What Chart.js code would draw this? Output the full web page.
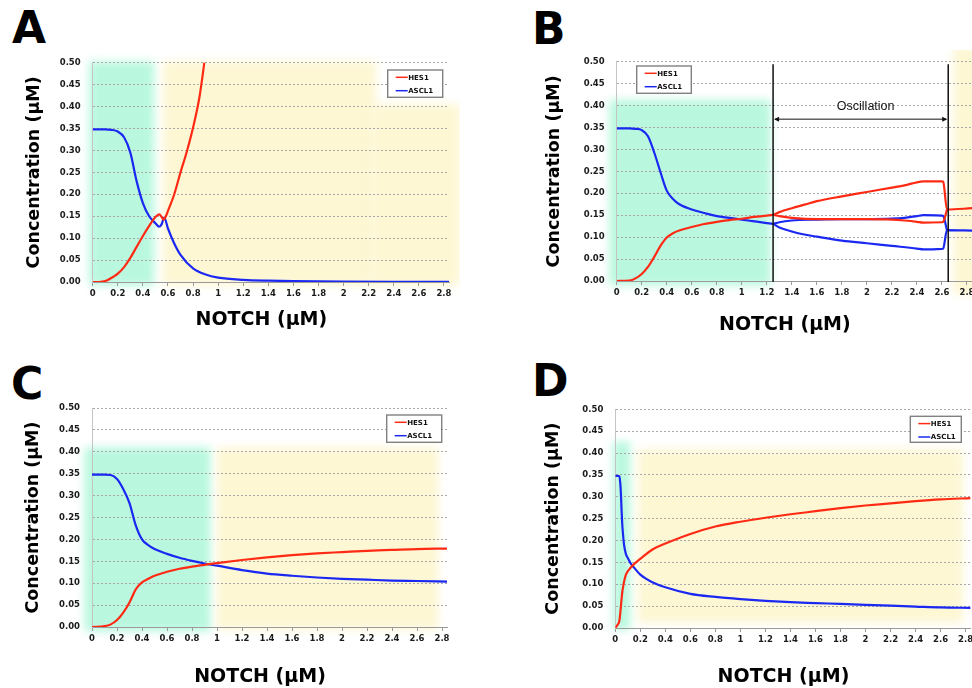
<!DOCTYPE html>
<html>
<head>
<meta charset="utf-8">
<script src="https://cdn.jsdelivr.net/npm/chart.js@4.4.0/dist/chart.umd.min.js"></script>
<style>
body{margin:0;background:#fff;width:972px;height:688px;overflow:hidden;position:relative}
.pane{position:absolute}
.tag{position:absolute;font:bold 44px/44px "DejaVu Sans";color:#000}
</style>
</head>
<body>
<div class="tag" style="left:12px;top:6px">A</div>
<div class="tag" style="left:532px;top:7px">B</div>
<div class="tag" style="left:11px;top:362px">C</div>
<div class="tag" style="left:532px;top:359px">D</div>
<canvas id="cA" class="pane" width="460" height="290" style="left:0;top:50px"></canvas>
<canvas id="cB" class="pane" width="486" height="290" style="left:486px;top:50px"></canvas>
<canvas id="cC" class="pane" width="460" height="298" style="left:0;top:390px"></canvas>
<canvas id="cD" class="pane" width="486" height="298" style="left:486px;top:390px"></canvas>
<script>
// axes
var notchTicks = [0, 0.2, 0.4, 0.6, 0.8, 1, 1.2, 1.4, 1.6, 1.8, 2, 2.2, 2.4, 2.6, 2.8];
var notchLabels = ['0', '0.2', '0.4', '0.6', '0.8', '1', '1.2', '1.4', '1.6', '1.8', '2', '2.2', '2.4', '2.6', '2.8'];
var concTicks = [0, 0.05, 0.1, 0.15, 0.2, 0.25, 0.3, 0.35, 0.4, 0.45, 0.5];
var concLabels = ['0.00', '0.05', '0.10', '0.15', '0.20', '0.25', '0.30', '0.35', '0.40', '0.45', '0.50'];

// A
var hesAx = [0, 0.05, 0.1, 0.165, 0.2, 0.25, 0.3, 0.35, 0.4, 0.45, 0.5, 0.53, 0.55, 0.565, 0.58, 0.6, 0.65, 0.7, 0.75, 0.8, 0.85, 0.89, 0.95];
var hesA = [0, 0, 0.002, 0.012, 0.019, 0.034, 0.055, 0.08, 0.105, 0.128, 0.148, 0.154, 0.148, 0.142, 0.148, 0.162, 0.2, 0.25, 0.297, 0.352, 0.42, 0.5, 0.62];
var asclAx = [0, 0.1, 0.15, 0.2, 0.25, 0.3, 0.35, 0.4, 0.45, 0.5, 0.53, 0.55, 0.57, 0.6, 0.65, 0.7, 0.8, 0.9, 1, 1.2, 1.4, 1.6, 2, 2.4, 2.84];
var asclA = [0.348, 0.348, 0.347, 0.343, 0.33, 0.295, 0.23, 0.18, 0.15, 0.134, 0.126, 0.132, 0.147, 0.122, 0.088, 0.062, 0.031, 0.017, 0.01, 0.005, 0.003, 0.002, 0.001, 0.0005, 0.0003];

// B: steady state, then the two oscillation envelopes, then steady again
var hesBx = [0, 0.1, 0.15, 0.2, 0.25, 0.3, 0.35, 0.4, 0.45, 0.5, 0.6, 0.7, 0.8, 0.9, 1, 1.1, 1.2, 1.25, 1.3, 1.4, 1.5, 1.6, 1.8, 2, 2.2, 2.3, 2.4, 2.45, 2.6, 2.61, 2.64, 2.84];
var hesB = [0, 0.001, 0.006, 0.016, 0.032, 0.055, 0.08, 0.099, 0.109, 0.115, 0.123, 0.13, 0.135, 0.139, 0.142, 0.146, 0.149, 0.151, 0.157, 0.166, 0.174, 0.182, 0.193, 0.203, 0.213, 0.218, 0.225, 0.227, 0.227, 0.226, 0.163, 0.166];
var hesLowBx = [1.25, 1.3, 1.4, 1.6, 1.8, 2, 2.2, 2.3, 2.4, 2.45, 2.6, 2.61, 2.64];
var hesLowB = [0.151, 0.148, 0.144, 0.141, 0.141, 0.141, 0.14, 0.138, 0.135, 0.133, 0.134, 0.135, 0.163];
var asclBx = [0, 0.1, 0.15, 0.2, 0.25, 0.3, 0.35, 0.4, 0.45, 0.5, 0.6, 0.7, 0.8, 0.9, 1, 1.1, 1.2, 1.25, 1.3, 1.4, 1.5, 1.6, 1.8, 2, 2.2, 2.4, 2.45, 2.6, 2.61, 2.64, 2.84];
var asclB = [0.348, 0.348, 0.347, 0.344, 0.33, 0.293, 0.248, 0.206, 0.187, 0.175, 0.163, 0.155, 0.148, 0.144, 0.14, 0.136, 0.132, 0.13, 0.122, 0.113, 0.106, 0.101, 0.092, 0.086, 0.08, 0.074, 0.072, 0.073, 0.074, 0.116, 0.115];
var asclHighBx = [1.25, 1.3, 1.4, 1.6, 1.8, 2, 2.2, 2.3, 2.4, 2.45, 2.6, 2.61, 2.64];
var asclHighB = [0.13, 0.134, 0.138, 0.14, 0.141, 0.141, 0.142, 0.144, 0.148, 0.15, 0.149, 0.148, 0.116];
var oscStart = 1.25, oscEnd = 2.65, oscTop = 0.494, oscArrow = 0.369, oscTextAt = [1.99, 0.397];

// C
var notchC = [0, 0.1, 0.15, 0.2, 0.25, 0.3, 0.35, 0.4, 0.45, 0.5, 0.6, 0.7, 0.8, 0.9, 1, 1.2, 1.4, 1.6, 1.8, 2, 2.2, 2.4, 2.6, 2.84];
var hesC = [0, 0.002, 0.006, 0.016, 0.033, 0.056, 0.086, 0.102, 0.11, 0.117, 0.126, 0.133, 0.138, 0.142, 0.146, 0.153, 0.159, 0.164, 0.168, 0.171, 0.174, 0.176, 0.178, 0.179];
var asclC = [0.348, 0.348, 0.347, 0.338, 0.315, 0.283, 0.232, 0.2, 0.187, 0.178, 0.167, 0.158, 0.151, 0.145, 0.14, 0.13, 0.122, 0.117, 0.113, 0.11, 0.108, 0.106, 0.105, 0.1035];

// D
var notchD = [0, 0.02, 0.032, 0.04, 0.045, 0.05, 0.055, 0.06, 0.07, 0.085, 0.1, 0.12, 0.15, 0.2, 0.3, 0.4, 0.6, 0.8, 1, 1.2, 1.4, 1.6, 1.8, 2, 2.2, 2.4, 2.6, 2.84];
var hesD = [0, 0.008, 0.016, 0.035, 0.05, 0.066, 0.08, 0.09, 0.106, 0.122, 0.13, 0.137, 0.146, 0.158, 0.18, 0.193, 0.215, 0.232, 0.243, 0.252, 0.26, 0.267, 0.274, 0.28, 0.285, 0.29, 0.294, 0.297];
var asclD = [0.348, 0.348, 0.347, 0.33, 0.306, 0.27, 0.24, 0.22, 0.19, 0.169, 0.16, 0.149, 0.138, 0.122, 0.104, 0.093, 0.078, 0.071, 0.066, 0.062, 0.059, 0.057, 0.055, 0.053, 0.051, 0.049, 0.047, 0.046];

// shaded zones [notch from, notch to, conc from, conc to]
var greenA = [-0.03, 0.49, -0.008, 0.503];
var yellowA = [[0.56, 2.26, -0.008, 0.503], [2.22, 2.93, -0.008, 0.405]];
var greenB = [-0.06, 1.23, -0.01, 0.413];
var yellowB = [[2.69, 3.05, -0.03, 0.534]];
var greenC = [-0.06, 0.95, -0.01, 0.41];
var yellowC = [[1.0, 2.77, -0.006, 0.41]];
var greenD = [-0.02, 0.12, -0.004, 0.426];
var yellowD = [[0.18, 2.78, 0.012, 0.408]];

var RED = '#ff2a14', BLUE = '#1a28f2', MINT = '#b9f8df', CREAM = '#fdf7d4';

Chart.defaults.font.family = '"DejaVu Sans", sans-serif';

function line(label, xs, ys, color, inKey) {
  return {
    label: label,
    data: xs.map(function (x, i) { return {x: x, y: ys[i]}; }),
    borderColor: color,
    borderWidth: 2.2,
    pointRadius: 0,
    cubicInterpolationMode: 'monotone',
    fill: false,
    inKey: inKey
  };
}

var shade = {
  id: 'shade',
  beforeDraw: function (chart, args, o) {
    var ctx = chart.ctx, sx = chart.scales.x, sy = chart.scales.y;
    ctx.save();
    ctx.filter = 'blur(4px)';
    o.zones.forEach(function (z) {
      ctx.fillStyle = z.color;
      z.boxes.forEach(function (b) {
        var x0 = sx.getPixelForValue(b[0]), x1 = sx.getPixelForValue(b[1]);
        var y0 = sy.getPixelForValue(b[2]), y1 = sy.getPixelForValue(b[3]);
        ctx.fillRect(x0, y1, x1 - x0, y0 - y1);
      });
    });
    ctx.restore();
  }
};

var keyBox = {
  id: 'keyBox',
  afterDraw: function (chart, args, o) {
    var ctx = chart.ctx, a = chart.chartArea;
    var left = o.fromLeft != null ? a.left + o.fromLeft : a.right - o.fromRight - o.w;
    var top = a.top + o.top;
    ctx.save();
    ctx.fillStyle = '#fff';
    ctx.fillRect(left, top, o.w, o.h);
    ctx.strokeStyle = '#808080';
    ctx.lineWidth = 1.4;
    ctx.strokeRect(left, top, o.w, o.h);
    var row = 0;
    ctx.font = 'bold 7px "DejaVu Sans"';
    ctx.textBaseline = 'middle';
    chart.data.datasets.forEach(function (d) {
      if (!d.inKey) return;
      var y = top + 7.3 + row * 13.4;
      ctx.strokeStyle = d.borderColor;
      ctx.lineWidth = 1.5;
      ctx.beginPath();
      ctx.moveTo(left + 8, y);
      ctx.lineTo(left + 20, y);
      ctx.stroke();
      ctx.fillStyle = '#111';
      ctx.fillText(d.label, left + 20.5, y + 0.5);
      row++;
    });
    ctx.restore();
  }
};

var oscMarks = {
  id: 'oscMarks',
  afterDatasetsDraw: function (chart, args, o) {
    if (!o.on) return;
    var ctx = chart.ctx, sx = chart.scales.x, sy = chart.scales.y;
    var xa = sx.getPixelForValue(oscStart), xb = sx.getPixelForValue(oscEnd);
    var yt = sy.getPixelForValue(oscTop), y0 = sy.getPixelForValue(0) + 1;
    var ya = sy.getPixelForValue(oscArrow);
    ctx.save();
    ctx.strokeStyle = '#111';
    ctx.lineWidth = 1.5;
    ctx.beginPath();
    ctx.moveTo(xa, yt); ctx.lineTo(xa, y0);
    ctx.moveTo(xb, yt); ctx.lineTo(xb, y0);
    ctx.stroke();
    ctx.lineWidth = 1;
    ctx.beginPath();
    ctx.moveTo(xa + 2, ya); ctx.lineTo(xb - 2, ya);
    ctx.stroke();
    ctx.fillStyle = '#111';
    ctx.beginPath();
    ctx.moveTo(xa + 1, ya); ctx.lineTo(xa + 6, ya - 2.5); ctx.lineTo(xa + 6, ya + 2.5); ctx.closePath();
    ctx.moveTo(xb - 1, ya); ctx.lineTo(xb - 6, ya - 2.5); ctx.lineTo(xb - 6, ya + 2.5); ctx.closePath();
    ctx.fill();
    ctx.font = '12.5px "Liberation Sans"';
    ctx.textAlign = 'center';
    ctx.textBaseline = 'middle';
    ctx.fillText('Oscillation', sx.getPixelForValue(oscTextAt[0]), sy.getPixelForValue(oscTextAt[1]));
    ctx.restore();
  }
};

function panel(id, datasets, zones, box, key, osc) {
  new Chart(document.getElementById(id), {
    type: 'line',
    data: {datasets: datasets},
    plugins: [shade, keyBox, oscMarks],
    options: {
      responsive: false,
      animation: false,
      events: [],
      layout: {padding: {left: 0, top: box.top, right: box.right, bottom: 0}},
      plugins: {
        legend: {display: false},
        tooltip: {enabled: false},
        shade: {zones: zones},
        keyBox: key,
        oscMarks: {on: osc}
      },
      scales: {
        x: {
          type: 'linear', min: 0, max: 2.84,
          afterBuildTicks: function (s) { s.ticks = notchTicks.map(function (v) { return {value: v}; }); },
          afterFit: function (s) { s.height = box.xh; s.paddingLeft = 0; s.paddingRight = 0; },
          ticks: {
            callback: function (v, i) { return notchLabels[i]; },
            color: '#1a1a1a', font: {size: 8.5, weight: 'bold'}, padding: 3, maxRotation: 0, autoSkip: false
          },
          grid: {drawOnChartArea: false, drawTicks: true, tickLength: 4, color: '#9a9a9a'},
          border: {color: '#9a9a9a', width: 1},
          title: {
            display: true, text: 'NOTCH (µM)\u2002\u2002', color: '#000',
            font: {size: 19, weight: 'bold'}, padding: {top: 0, bottom: box.xtPad}
          }
        },
        y: {
          type: 'linear', min: 0, max: 0.5,
          afterBuildTicks: function (s) { s.ticks = concTicks.map(function (v) { return {value: v}; }); },
          afterFit: function (s) { s.width = box.yw; s.paddingTop = 0; s.paddingBottom = 0; },
          ticks: {
            callback: function (v, i) { return concLabels[i]; },
            color: '#1a1a1a', font: {size: 8.5, weight: 'bold'}, padding: 12
          },
          grid: {drawTicks: false, color: '#a8a8a8', lineWidth: 1},
          border: {display: true, color: '#c4c4c4', width: 1, dash: [2, 2]},
          title: {
            display: true, text: 'Concentration (µM)', color: '#000',
            font: {size: 17.5, weight: 'bold'}, padding: {top: box.ytPad, bottom: 0}
          }
        }
      }
    }
  });
}

panel('cA',
  [line('HES1', hesAx, hesA, RED, true), line('ASCL1', asclAx, asclA, BLUE, true)],
  [{color: MINT, boxes: [greenA]}, {color: CREAM, boxes: yellowA}],
  {yw: 92.7, top: 12.7, right: 11, xh: 58, ytPad: 23.5, xtPad: 8.6},
  {fromRight: 6.3, top: 7.3, w: 55, h: 27.3}, false);

panel('cB',
  [line('HES1', hesBx, hesB, RED, true), line('ASCL1', asclBx, asclB, BLUE, true),
   line('', hesLowBx, hesLowB, RED, false), line('', asclHighBx, asclHighB, BLUE, false)],
  [{color: MINT, boxes: [greenB]}, {color: CREAM, boxes: yellowB}],
  {yw: 130.7, top: 11.7, right: 0, xh: 59, ytPad: 58, xtPad: 3.6},
  {fromLeft: 20, top: 4.3, w: 54.6, h: 27.3}, true);

panel('cC',
  [line('HES1', notchC, hesC, RED, true), line('ASCL1', notchC, asclC, BLUE, true)],
  [{color: MINT, boxes: [greenC]}, {color: CREAM, boxes: yellowC}],
  {yw: 92, top: 18, right: 13, xh: 61, ytPad: 23, xtPad: 0},
  {fromRight: 5.3, top: 7, w: 55, h: 27.3}, false);

panel('cD',
  [line('HES1', notchD, hesD, RED, true), line('ASCL1', notchD, asclD, BLUE, true)],
  [{color: MINT, boxes: [greenD]}, {color: CREAM, boxes: yellowD}],
  {yw: 129.3, top: 19.3, right: 1.4, xh: 60, ytPad: 57, xtPad: 0},
  {fromRight: 9.3, top: 7, w: 51, h: 26}, false);
</script>
</body>
</html>
